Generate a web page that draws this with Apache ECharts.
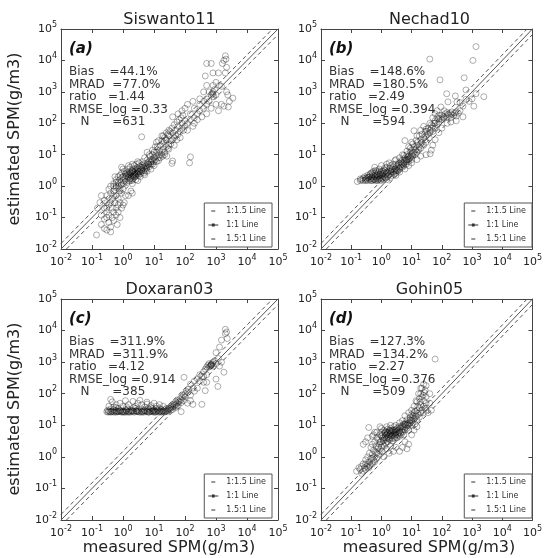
<!DOCTYPE html>
<html><head><meta charset="utf-8">
<script src="https://cdn.jsdelivr.net/npm/echarts@6/dist/echarts.min.js"></script>
<style>html,body{margin:0;padding:0;background:#fff}#c{width:545px;height:558px}</style>
</head><body><div id="c"></div>
<script>
// ---------- data ----------
const panelTitles = ['Siswanto11', 'Nechad10', 'Doxaran03', 'Gohin05'];
const panelTags = ['(a)', '(b)', '(c)', '(d)'];
const biasVals = ['44.1%', '148.6%', '311.9%', '127.3%'];
const mradVals = ['77.0%', '180.5%', '311.9%', '134.2%'];
const ratioVals = ['1.44', '2.49', '4.12', '2.27'];
const rmseVals = ['0.33', '0.394', '0.914', '0.376'];
const nVals = ['631', '594', '385', '509'];
const tickExponents = [-2, -1, 0, 1, 2, 3, 4, 5];
const refLineNames = ['1:1.5 Line', '1:1 Line', '1.5:1 Line'];
const refLineRatios = [1 / 1.5, 1, 1.5];

const siswantoPoints = [
[0.8,1.6],[1,2],[1.2,2.5],[1.5,2],[1.6,2.8],[2,2.5],[2,3.2],[2.5,2],[2.5,3],[3,2.5],[3,3.5],[3.2,2.2],[4,3],[4,4],[5,3.5],[5,5],[6,4],[6.3,5.5],[8,5],[8,7],[10,6],[10,8],
[1,1.5],[1.3,2.2],[1.8,1.8],[2.2,2.8],[2.8,2.6],[3.5,3],[4.5,3.8],[5.5,4.5],[7,6],[9,7],[0.7,1.3],[0.9,2.6],[1.1,3],[1.4,3.5],[1.7,4],[2.3,4.5],[2.7,5],[3.3,5.5],[4.2,6],
[1.2,1.4],[1.6,1.5],[2.1,1.7],[2.6,1.6],[3.6,2],[4.8,2.6],[6,3],[0.5,1.2],[0.6,1.6],[0.55,2],[0.8,2.2],[1,3.5],[0.9,1.1],[2,2],[2.4,2.4],[3,3],[3.8,3.4],[1.5,2.5],[1.9,3],
[2.2,2.1],[2.9,3.8],[3.4,4.2],[7.5,9],[9,10],[12,9],[12,12],[15,10],[15,14],[11,7],[14,8],[18,12],[1.3,2.7],[1.7,2.3],[2.4,3.6],[3.1,2.8],[4.4,4.6],[5.2,3],[6.8,4.8],[8.5,6.2],
[0.6,1],[0.7,2],[0.75,0.7],[0.85,1.3],[0.95,1.9],[1.05,1.2],[1.15,1.7],[1.25,2.1],[1.35,1.3],[1.45,1.9],[1.55,2.3],[1.65,1.7],[1.75,2.6],[1.85,2.1],[1.95,1.5],[2.05,2.9],
[2.15,2.3],[2.3,1.9],[2.45,2.7],[2.6,2.2],[2.75,3.3],[2.95,2.4],[3.3,2.9],[3.7,2.5],[4.1,3.4],[4.6,3.1],[5.1,4.2],[5.8,3.7],[6.5,5],[7.2,4.2],[8,5.8],[9,5],[10,4.5],[12,6],
[14,6.5],[16,8],[19,9],[22,10],[26,9],[7,10],[9,14],[5,8],[3,6],[2,5],[1.5,4.5],[0.9,4],[6,12],[11,18],[14,28],[18,40],[24,30],[30,15],[45,20],[55,30],[70,35],[120,60],[180,80],
[8,3.5],[5,2.3],[3,1.5],[2,1.2],
[20,15],[20,25],[25,18],[25,30],[30,20],[30,40],[35,28],[40,30],[40,50],[45,35],[50,40],[50,60],[60,45],[60,80],[70,55],[80,70],[80,100],[90,60],[100,80],[100,120],
[16,20],[18,28],[22,35],[28,45],[33,55],[38,70],[45,90],[55,110],[65,130],[75,150],[85,180],[10,12],[13,18],[17,10],[22,12],[28,16],[35,22],[20,40],[25,50],[30,60],[12,25],[40,160],
[150,8.5],[40,6.3],[38,5.3],[4,37],[140,5.5],
[120,100],[150,130],[150,200],[200,150],[200,300],[250,200],[300,250],[300,400],[400,300],[400,500],[500,400],[500,600],[600,500],[700,800],[750,900],[800,1000],[800,850],[850,700],
[900,1200],[1000,800],[600,1000],[500,200],[700,300],[1000,400],[1500,400],[1200,250],[1800,350],[2500,330],[3500,630],[2200,1000],[1500,1500],[1300,1600],[800,1600],[1000,2000],
[500,1600],[400,1000],[300,600],[180,500],[120,400],[80,250],[100,300],[60,200],[200,100],[250,130],[350,160],[2000,4000],[2200,6000],[1800,10000],[1600,8000],[500,8000],[700,8000],
[800,4000],[1200,4000],[2000,14000],[2100,11000],[450,3200],[2400,800],[2700,500],
[0.3,0.5],[0.35,0.8],[0.4,0.6],[0.4,1],[0.5,0.7],[0.5,1],[0.6,0.9],[0.6,1.3],[0.7,1],[0.3,0.3],[0.25,0.35],[0.3,0.2],[0.35,0.25],[0.45,0.4],[0.5,0.5],[0.8,0.8],[0.9,0.6],[1,0.8],
[0.2,0.5],[0.18,0.3],[0.6,0.5],[0.7,0.4],
[0.14,0.028],[0.2,0.06],[0.25,0.045],[0.3,0.04],[0.35,0.07],[0.4,0.05],[0.45,0.1],[0.5,0.08],[0.6,0.12],[0.7,0.15],[0.8,0.1],[0.9,0.2],[1,0.25],[1.1,0.3],[0.5,0.15],[0.6,0.2],
[0.3,0.1],[0.2,0.12],[0.25,0.2],[0.8,0.3],[1.2,0.5],[1.5,0.5],[1.8,0.7],[2,0.6],[0.65,0.06],[0.4,0.035],
[0.3,0.15],[0.45,0.2],[0.55,0.3],[0.25,0.09],[0.35,0.12],[0.7,0.25],[0.15,0.2],[0.4,0.3]
];

const nechadPoints = [
[0.16,1.4],[0.2,1.5],[0.25,1.5],[0.3,1.6],[0.3,1.8],[0.35,1.5],[0.4,1.6],[0.4,2],[0.45,1.7],[0.5,1.5],[0.5,1.9],[0.5,2.3],[0.6,1.6],[0.6,2],[0.6,2.6],[0.7,1.7],[0.7,2.2],
[0.8,1.6],[0.8,2],[0.8,2.8],[0.9,1.8],[0.9,2.4],[1,1.7],[1,2.1],[1,3],[0.25,1.8],[0.35,2.2],[0.45,2.6],[0.55,3],[0.65,3.2],[0.75,1.5],[0.85,3.5],[1.1,1.8],[1.1,2.5],[1.2,2],
[1.2,3.3],[1.3,1.9],[1.4,2.4],[1.5,2.8],[1.5,4],[1.6,2],[1.7,3],[1.8,2.3],[2,2.5],[2,3.2],[2,4.5],[2.2,2.2],[2.3,3.5],[2.5,2.8],[2.5,4],[2.8,3],[3,2.6],[3,3.6],[3,5],[3.3,4.2],
[3.5,3],[3.8,5.5],[4,3.5],[4,4.5],[4.5,6],[5,4],[5,5],[5,7],[5.5,4.5],[6,6],[6,8],[6.5,5],[7,7],[7,10],[8,6],[8,9],[9,8],[9,12],[10,7],[10,10],[10,14],[11,9],[12,12],[12,18],
[13,10],[14,15],[15,12],[15,20],[16,25],[17,14],[18,18],[20,16],[20,22],[20,30],[22,25],[25,20],[25,35],[28,30],[30,40],[30,25],[32,55],[35,45],[38,35],[40,60],[40,50],[45,70],
[50,55],[50,80],[55,100],[60,70],[60,120],[70,90],[70,150],[80,110],[90,140],[100,130],[100,180],[120,150],[130,200],[150,160],[150,220],[180,180],[200,200],[200,150],[250,180],
[300,230],[300,170],[400,250],[350,210],
[0.22,1.6],[0.28,2],[0.33,1.7],[0.38,1.9],[0.42,2.4],[0.48,2],[0.55,1.7],[0.62,2.3],[0.68,1.9],[0.75,2.5],[0.85,2.2],[0.95,2.7],[1.05,2.3],[1.15,2.9],[1.25,2.6],[1.35,3.1],
[1.6,2.6],[1.9,3.8],[2.2,3],[2.7,3.4],[3.2,3.2],[3.6,4.8],[4.3,4],[4.8,5.5],[5.8,6.8],[6.8,6],[7.5,8.5],[8.5,7.5],[11,11],[13,14],
[0.3,1.5],[0.45,1.5],[0.55,1.6],[0.65,1.5],[0.85,1.7],[0.95,1.5],[1.15,1.6],[1.4,1.8],[1.7,2.2],[2.1,2.8],[2.6,2.4],[3.1,3.1],[3.7,3.8],[4.6,4.8],[5.6,5.5],[6.6,7],[7.8,7.2],
[9.5,9],[0.6,4],[1,4.5],[1.8,5.5],[2.8,6.5],[4,8],[5.5,9.5],[7,13],[9,16],[11,22],[14,28],[18,40],[22,45],[28,55],[35,70],[45,90],[60,100],[80,140],[110,160],[160,190],[220,230],
[260,210],[0.2,1.7],[0.35,1.9],[0.5,2.7],[0.7,3],[1.3,3.8],[2.4,5],
[1.5,1.6],[2,1.9],[3,2.2],[4,2.8],[6,3.5],[8,4.5],[10,5.5],[15,7],[20,9],[30,10],[41,10.7],[45,14],[50,20],[60,30],[80,50],[100,70],[150,100],[200,110],[300,120],[500,160],
[1.5,5],[3,7],[5,10],[8,18],[10,25],[15,40],[20,60],[25,80],[30,65],[40,100],[50,150],[60,200],[70,250],[80,180],[120,250],[12,58],[6,28],
[1350,27500],[1070,10000],[40,11000],[87,2400],[550,2800],[145,870],[280,740],[160,480],[316,480],[93,330],[630,1150],[1350,870],[2450,700],[1150,350],[630,580],[1000,600],
[800,500],[500,350],[400,450]
];

const doxaranPoints = [
[0.3,27],[0.35,28],[0.4,26],[0.45,28],[0.5,27],[0.55,29],[0.6,26],[0.7,28],[0.8,27],[0.9,26],[1,28],[1.1,27],[1.2,26],[1.3,28],[1.5,27],[1.7,26],[1.9,28],[2,27],[2.3,26],
[2.6,28],[3,27],[3.4,26],[3.8,28],[4.2,27],[4.7,26],[5.3,28],[6,27],[7,26],[8,28],[9,27],[10,26],[11,28],[12,27],[14,26],[16,28],[18,27],[20,28],[23,27],[26,29],[30,30],
[0.32,30],[0.5,31],[0.8,30],[1.2,31],[2,30],[3,31],[5,30],[7,31],[10,30],[13,31],[17,32],[22,31],[0.4,33],[0.7,34],[1.4,33],[2.5,34],[4,33],[6.5,34],[9,33],[15,35],[25,34],[35,36],
[0.38,27],[0.65,27],[0.95,27],[1.6,28],[2.8,27],[4.5,28],[6.5,26],[9.5,28],[15,27],[21,26],[27,27],
[0.33,26],[0.42,27],[0.52,26],[0.62,28],[0.72,27],[0.85,29],[1.05,26],[1.25,29],[1.45,26],[1.8,29],[2.2,28],[2.7,29],[3.2,28],[4,26],[5,29],[6,28],[7.5,27],[9,29],[11,26],
[13,29],[17,26],[19,29],[24,28],[28,32],[32,33],[0.6,36],[1.3,38],[2.2,36],[8,36],[12,34],
[0.4,66],[2.1,57],[5.9,54],[0.6,45],[0.8,50],[1,40],[1.5,45],[2.5,40],[3,50],[4,45],[5,38],[8,42],[10,50],[12,40],[15,45],[20,40],[0.5,38],[0.35,40],[1.2,60],[3.5,62],[6,47],[0.45,55],
[30,35],[35,40],[40,38],[40,45],[45,42],[50,45],[50,55],[55,50],[60,60],[65,55],[70,70],[75,65],[80,80],[90,90],[100,100],[100,80],[110,120],[120,110],[130,140],[40,32],[50,36],
[60,42],[35,30],[45,48],[55,40],[75,52],[120,50],[180,46],[350,46],[75,27],[150,60],[90,60],
[150,200],[180,150],[200,250],[250,300],[300,400],[300,250],[350,350],[400,500],[400,350],[450,600],[500,700],[550,800],[600,700],[600,900],[650,750],[700,800],[700,850],[750,900],
[800,750],[800,1000],[900,1100],[1000,900],[500,400],[400,230],[500,230],[1150,170],[1300,750],[93,330],[200,120],[150,90],[250,150],[1200,1300],[1500,1000],[1000,2000],[1300,3000],
[1500,5000],[2000,11000],[2300,5600],[2000,8000],[2200,9000],[1000,290],[1800,480],[450,125],[680,780],[720,820]
];

const gohinPoints = [
[0.2,0.4],[0.22,0.5],[0.25,0.35],[0.25,0.6],[0.28,0.45],[0.3,0.4],[0.3,0.8],[0.33,0.5],[0.35,0.6],[0.35,1],[0.38,0.45],[0.4,0.7],[0.4,1.3],[0.42,0.55],[0.45,0.9],[0.45,2],[0.5,0.6],
[0.5,1.2],[0.5,2.5],[0.55,0.8],[0.55,1.6],[0.6,1],[0.6,3],[0.65,1.4],[0.65,2.2],[0.7,0.9],[0.7,4],[0.75,1.8],[0.8,1.2],[0.8,3.5],[0.85,2.5],[0.9,1.5],[0.9,5],[0.38,8.5],[0.9,9],
[0.3,3],[0.25,2.5],[0.35,4],[0.5,4.5],[0.6,6],
[0.15,0.35],[0.18,0.45],[0.22,0.3],[0.3,0.6],[0.4,0.5],[0.5,0.9],[0.6,0.7],[0.7,1.3],[0.8,2],[0.9,3],[1.05,1.5],[1.15,3.2],[1.25,2.2],[1.35,4.8],[1.45,3.6],[1.55,6],[1.75,3.8],
[1.85,7],[2.1,6],[2.3,3.2],[2.5,6.8],[2.7,4],[2.9,5.8],[3.1,7.5],[3.4,5],[3.8,9],[4.3,5.8],[4.8,7],[5.2,9],[6,11],[7,10],[8,12],[9,15],[11,20],[13,28],[16,40],[19,55],[22,80],
[26,110],[24,90],[17,100],[20,150],[14,60],[25,25],[30,30],[0.7,6],[1,8],[1.5,9],[2,10],[0.55,5],
[1,2],[1,3],[1,4.5],[1,6],[1.1,2.5],[1.1,5],[1.2,3.5],[1.2,7],[1.3,4],[1.3,5.5],[1.4,2.8],[1.4,6.5],[1.5,4],[1.5,5],[1.6,3],[1.6,7.5],[1.7,4.5],[1.7,6],[1.8,5],[1.9,3.5],[2,4],
[2,5.5],[2,8],[2.2,4.5],[2.2,6.5],[2.4,3.8],[2.4,5],[2.6,6],[2.6,9],[2.8,4.5],[2.8,7],[3,5],[3,6],[3,10],[3.3,4],[3.3,8],[3.6,5.5],[3.6,7],[4,4.5],[4,6.5],[4,12],[4.5,5],[4.5,9],
[5,6],[5,8],[5,14],[5.5,5],[5.5,11],[6,7],[6,9],[6.5,12],[7,8],[7,15],[8,10],[8,7],[9,12],[9,18],[10,10],[10,14],[10,22],[11,12],[12,16],[12,25],[13,11],[14,20],[15,15],[15,30],
[16,24],[18,18],[18,35],[20,25],[20,45],[22,30],[25,40],[25,60],[28,35],[30,80],[30,50],[20,100],[22,150],[25,200],[28,130],[30,180],[18,70],[15,55],[12,40],[10,30],[8,25],[6,20],
[40,50],[45,30],[35,25],[40,100],[60,1250],[5,2],[7,1.8],[8,2.5],[4,1.5],[6,3],[10,5],[12,7],[15,9],[1.8,1.3],[2.5,1.5],[3,2],[1.2,1],[1.5,1.8],[2,2.2],
[1.1,4],[1.3,6],[1.6,5.5],[1.9,6.5],[2.1,4.8],[2.3,7],[2.7,5.2],[3.2,6.4],[3.8,6],[4.2,8],[5,10],[6.2,10.5],[7.5,11],[8.8,14],[11,17],[13,19]
];

const allPoints = [siswantoPoints, nechadPoints, doxaranPoints, gohinPoints];

// ---------- layout ----------
const grids = [
  {left: 61, top: 29, width: 217, height: 220},
  {left: 321, top: 29, width: 217, height: 220},
  {left: 61, top: 299, width: 217, height: 221},
  {left: 321, top: 299, width: 217, height: 221}
];
const FONT = '"DejaVu Sans", "Liberation Sans", sans-serif';
const AXMIN = Math.pow(10, tickExponents[0]);
const AXMAX = Math.pow(10, tickExponents[tickExponents.length - 1]);
const lineCol = '#555';
const dashIcon = 'path://M0,3L0.01,3L0.01,3.01Z M3,2.4L7,2.4L7,3.6L3,3.6Z M9.99,3L10,3L10,3.01Z';
const solidIcon = 'path://M0,2.4L10,2.4L10,3.6L0,3.6Z M3.6,1.6L6.4,1.6L6.4,4.4L3.6,4.4Z';

function labelFmt(v) {
  const e = Math.round(Math.log10(v));
  return '{b|10}{s|' + e + '}';
}
const labelRich = {
  b: {fontSize: 11, fontFamily: FONT, color: '#222'},
  s: {fontSize: 8, fontFamily: FONT, color: '#222', padding: [0, 0, 9, 0]}
};

const xAxes = [], yAxes = [], series = [], legends = [], graphics = [];
const axLine = {show: true, lineStyle: {color: '#444', width: 1}};
const axTick = {show: true, inside: true, length: 4, lineStyle: {color: '#444'}};
grids.forEach((g, i) => {
  const base = {type: 'log', logBase: 10, min: AXMIN, max: AXMAX, gridIndex: i, splitLine: {show: false}};
  xAxes.push(Object.assign({}, base, {position: 'bottom', axisLine: axLine, axisTick: axTick,
    axisLabel: {formatter: labelFmt, rich: labelRich, margin: 5}}));
  yAxes.push(Object.assign({}, base, {position: 'left', axisLine: axLine, axisTick: axTick,
    axisLabel: {formatter: labelFmt, rich: labelRich, margin: 4}}));
});
grids.forEach((g, i) => {
  const base = {type: 'log', logBase: 10, min: AXMIN, max: AXMAX, gridIndex: i, splitLine: {show: false}};
  xAxes.push(Object.assign({}, base, {position: 'top', axisLine: axLine, axisTick: axTick, axisLabel: {show: false}}));
  yAxes.push(Object.assign({}, base, {position: 'right', axisLine: axLine, axisTick: axTick, axisLabel: {show: false}}));
});

grids.forEach((g, i) => {
  refLineNames.forEach((nm, k) => {
    const r = refLineRatios[k];
    const pts = r >= 1 ? [[AXMIN, AXMIN * r], [AXMAX / r, AXMAX]] : [[AXMIN / r, AXMIN], [AXMAX, AXMAX * r]];
    series.push({
      name: nm, type: 'line', xAxisIndex: i, yAxisIndex: i, data: pts,
      symbol: 'none', showSymbol: false,
      lineStyle: {color: lineCol, width: 1, type: r === 1 ? 'solid' : [4, 3]},
      itemStyle: {color: '#333'},
      silent: true, z: 3
    });
  });
  series.push({
    name: panelTitles[i], type: 'scatter', xAxisIndex: i, yAxisIndex: i, data: allPoints[i],
    symbol: 'circle', symbolSize: 6,
    itemStyle: {color: 'rgba(0,0,0,0)', borderColor: 'rgba(0,0,0,0.5)', borderWidth: 0.8},
    silent: true, z: 2
  });
  legends.push({
    orient: 'vertical',
    right: 545 - (g.left + g.width) + 6,
    bottom: 558 - (g.top + g.height) + 2,
    data: refLineNames.map((nm, k) => ({name: nm, icon: refLineRatios[k] === 1 ? solidIcon : dashIcon,
      itemStyle: {color: '#333', borderWidth: 0}})),
    itemWidth: 10, itemHeight: 8, itemGap: 6,
    symbolKeepAspect: true,
    padding: [4, 6, 4, 4],
    borderColor: '#555', borderWidth: 1, backgroundColor: '#fff',
    selectedMode: false,
    textStyle: {fontSize: 8, fontFamily: FONT, color: '#333', padding: [0, 0, 0, 3]}
  });
  graphics.push({type: 'text', x: g.left + g.width / 2, y: g.top - 9,
    style: {text: panelTitles[i], font: '16px ' + FONT, fill: '#222', align: 'center', verticalAlign: 'middle'}});
  graphics.push({type: 'text', x: g.left + 8, y: g.top + 20,
    style: {text: panelTags[i], font: 'italic bold 15px ' + FONT, fill: '#111', align: 'left', verticalAlign: 'middle'}});
  const lines = [
    'Bias    =' + biasVals[i],
    'MRAD  =' + mradVals[i],
    'ratio   =' + ratioVals[i],
    'RMSE_log =' + rmseVals[i],
    '   N      =' + nVals[i]
  ];
  lines.forEach((t, k) => {
    graphics.push({type: 'text', x: g.left + 8, y: g.top + 43 + k * 12.5,
      style: {text: t, font: '12px ' + FONT, fill: '#333', align: 'left', verticalAlign: 'middle'}});
  });
});
[139, 409].forEach(cy => {
  graphics.push({type: 'text', x: 15, y: cy, rotation: Math.PI / 2,
    style: {text: 'estimated SPM(g/m3)', font: '16px ' + FONT, fill: '#222', align: 'center', verticalAlign: 'middle'}});
});
[169, 429].forEach(cx => {
  graphics.push({type: 'text', x: cx, y: 548,
    style: {text: 'measured SPM(g/m3)', font: '16px ' + FONT, fill: '#222', align: 'center', verticalAlign: 'middle'}});
});

const chart = echarts.init(document.getElementById('c'), null, {renderer: 'canvas'});
chart.setOption({
  animation: false,
  backgroundColor: '#fff',
  grid: grids,
  xAxis: xAxes,
  yAxis: yAxes,
  legend: legends,
  series: series,
  graphic: graphics
});
</script>
</body></html>
